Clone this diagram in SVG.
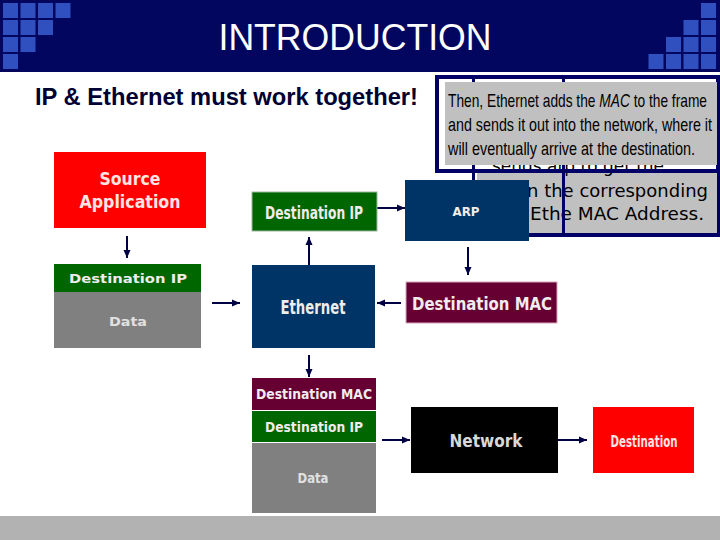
<svg xmlns="http://www.w3.org/2000/svg" width="720" height="540" viewBox="0 0 720 540">
<style>
.sq{fill:#3050C0}
.b{font-family:"DejaVu Sans","Liberation Sans",sans-serif;font-weight:bold;text-anchor:middle}
.lt{fill:#F0ECEC}
.cn{font-family:"Liberation Sans",sans-serif;font-size:19px;fill:#000}
.bk{font-family:"DejaVu Sans",sans-serif;font-size:17px;fill:#000}
.nv{stroke:#000066;fill:none}
.arr{stroke:#000044;stroke-width:2;fill:none;marker-end:url(#ah)}
</style>
<defs>
<marker id="ah" markerWidth="8" markerHeight="8" refX="8" refY="4" orient="auto" markerUnits="userSpaceOnUse">
<path d="M0,0.5 L8,4 L0,7.5 z" fill="#000044"/>
</marker>
</defs>
<rect width="720" height="540" fill="#fff"/>
<g id="header">
<rect x="0" y="0" width="720" height="72" fill="#02065F"/>
<rect class="sq" x="3" y="3" width="15" height="15"/><rect class="sq" x="20.5" y="3" width="15" height="15"/><rect class="sq" x="38" y="3" width="15" height="15"/><rect class="sq" x="55.5" y="3" width="15" height="15"/>
<rect class="sq" x="3" y="20" width="15" height="15"/><rect class="sq" x="20.5" y="20" width="15" height="15"/><rect class="sq" x="38" y="20" width="15" height="15"/>
<rect class="sq" x="3" y="37" width="15" height="15"/><rect class="sq" x="20.5" y="37" width="15" height="15"/>
<rect class="sq" x="3" y="54" width="15" height="15"/>
<rect class="sq" x="701" y="3" width="15" height="15"/>
<rect class="sq" x="683.5" y="20" width="15" height="15"/><rect class="sq" x="701" y="20" width="15" height="15"/>
<rect class="sq" x="666" y="37" width="15" height="15"/><rect class="sq" x="683.5" y="37" width="15" height="15"/><rect class="sq" x="701" y="37" width="15" height="15"/>
<rect class="sq" x="648.5" y="54" width="15" height="15"/><rect class="sq" x="666" y="54" width="15" height="15"/><rect class="sq" x="683.5" y="54" width="15" height="15"/><rect class="sq" x="701" y="54" width="15" height="15"/>
<text x="355" y="50" font-family="Liberation Sans,sans-serif" font-size="37" fill="#fff" text-anchor="middle" textLength="273" lengthAdjust="spacingAndGlyphs">INTRODUCTION</text>
</g>
<text id="subtitle" x="35" y="105" font-family="Liberation Sans,sans-serif" font-weight="bold" font-size="23.5" fill="#000033" textLength="383" lengthAdjust="spacingAndGlyphs">IP &amp; Ethernet must work together!</text>
<rect id="footer" x="0" y="516" width="720" height="24" fill="#B2B2B2"/>

<g id="callout-back">
<rect x="477" y="173" width="241" height="61" fill="#C0C0C0"/>
<text class="bk" x="492" y="172" textLength="172" lengthAdjust="spacingAndGlyphs">sends arp to get the</text>
<text class="bk" x="527" y="197" textLength="181" lengthAdjust="spacingAndGlyphs">n the corresponding</text>
<text class="bk" x="530" y="220" textLength="174" lengthAdjust="spacingAndGlyphs">Ethe MAC Address.</text>
<line class="nv" x1="473.5" y1="76" x2="473.5" y2="182" stroke-width="3"/>
<line class="nv" x1="563.5" y1="76" x2="563.5" y2="236" stroke-width="3"/>
<line class="nv" x1="528" y1="235" x2="720" y2="235" stroke-width="4"/>
<line class="nv" x1="718.5" y1="172" x2="718.5" y2="237" stroke-width="3"/>
</g>
<g id="callout-front">
<rect class="nv" x="437" y="77" width="281" height="94" stroke-width="4"/>
<rect x="445" y="82" width="272" height="83" fill="#C0C0C0"/>
<text class="cn" x="448" y="107" textLength="259" lengthAdjust="spacingAndGlyphs">Then, Ethernet adds the <tspan font-style="italic">MAC</tspan> to the frame</text>
<text class="cn" x="448" y="131" textLength="264" lengthAdjust="spacingAndGlyphs">and sends it out into the network, where it</text>
<text class="cn" x="448" y="155" textLength="247" lengthAdjust="spacingAndGlyphs">will eventually arrive at the destination.</text>
</g>

<g id="connectors">
<line class="arr" x1="127" y1="236" x2="127" y2="258"/>
<line class="arr" x1="212" y1="303" x2="240" y2="303"/>
<line class="arr" x1="309" y1="265" x2="309" y2="237"/>
<line class="arr" x1="377" y1="208" x2="405" y2="208"/>
<line class="arr" x1="468" y1="247" x2="468" y2="275"/>
<line class="arr" x1="401" y1="303" x2="377" y2="303"/>
<line class="arr" x1="309" y1="355" x2="309" y2="377"/>
<line class="arr" x1="382" y1="440" x2="410" y2="440"/>
<line class="arr" x1="558" y1="440" x2="587" y2="440"/>
</g>

<g id="source-application">
<rect x="54" y="152" width="152" height="76" fill="#FF0000"/>
<text class="b" x="130" y="185" font-size="17" fill="#FFE4E4" textLength="61" lengthAdjust="spacingAndGlyphs">Source</text>
<text class="b" x="130" y="208" font-size="17" fill="#FFE4E4" textLength="101" lengthAdjust="spacingAndGlyphs">Application</text>
</g>
<g id="packet-ip">
<rect x="54" y="264" width="147" height="28" fill="#006600"/>
<rect x="54" y="292" width="147" height="56" fill="#808080"/>
<text class="b lt" x="128" y="283" font-size="13" textLength="118" lengthAdjust="spacingAndGlyphs">Destination IP</text>
<text class="b" x="128" y="326" font-size="13" fill="#E0E0E0" textLength="38" lengthAdjust="spacingAndGlyphs">Data</text>
</g>
<g id="destination-ip">
<rect x="252" y="192" width="125" height="39" fill="#006600" stroke="#9DB89D" stroke-width="1"/>
<text class="b lt" x="314" y="219" font-size="17" textLength="98" lengthAdjust="spacingAndGlyphs">Destination IP</text>
</g>
<g id="arp">
<rect x="405" y="180" width="124" height="61" fill="#003366"/>
<text class="b lt" x="466" y="216" font-size="12" textLength="27" lengthAdjust="spacingAndGlyphs">ARP</text>
</g>
<g id="ethernet">
<rect x="252" y="265" width="123" height="83" fill="#003366"/>
<text class="b lt" x="313" y="314" font-size="20" font-weight="normal" textLength="65" lengthAdjust="spacingAndGlyphs">Ethernet</text>
</g>
<g id="destination-mac">
<rect x="406" y="282" width="151" height="41" fill="#660033" stroke="#D6A6BD" stroke-width="1"/>
<text class="b lt" x="482" y="310" font-size="18" textLength="140" lengthAdjust="spacingAndGlyphs">Destination MAC</text>
</g>
<g id="frame">
<rect x="252" y="378" width="124" height="32" fill="#660033"/>
<rect x="252" y="411" width="124" height="31" fill="#006600"/>
<rect x="252" y="443" width="124" height="70" fill="#808080"/>
<text class="b lt" x="314" y="399" font-size="14" textLength="116" lengthAdjust="spacingAndGlyphs">Destination MAC</text>
<text class="b lt" x="314" y="432" font-size="14" textLength="98" lengthAdjust="spacingAndGlyphs">Destination IP</text>
<text class="b" x="313" y="483" font-size="14" fill="#E0E0E0" textLength="31" lengthAdjust="spacingAndGlyphs">Data</text>
</g>
<g id="network">
<rect x="411" y="407" width="147" height="66" fill="#000"/>
<text class="b" x="486" y="447" font-size="18" fill="#D8D8D8" textLength="73" lengthAdjust="spacingAndGlyphs">Network</text>
</g>
<g id="destination">
<rect x="593" y="407" width="101" height="66" fill="#FF0000"/>
<text class="b" x="644" y="447" font-size="15" font-weight="normal" fill="#FFE4E4" textLength="67" lengthAdjust="spacingAndGlyphs">Destination</text>
</g>
</svg>
